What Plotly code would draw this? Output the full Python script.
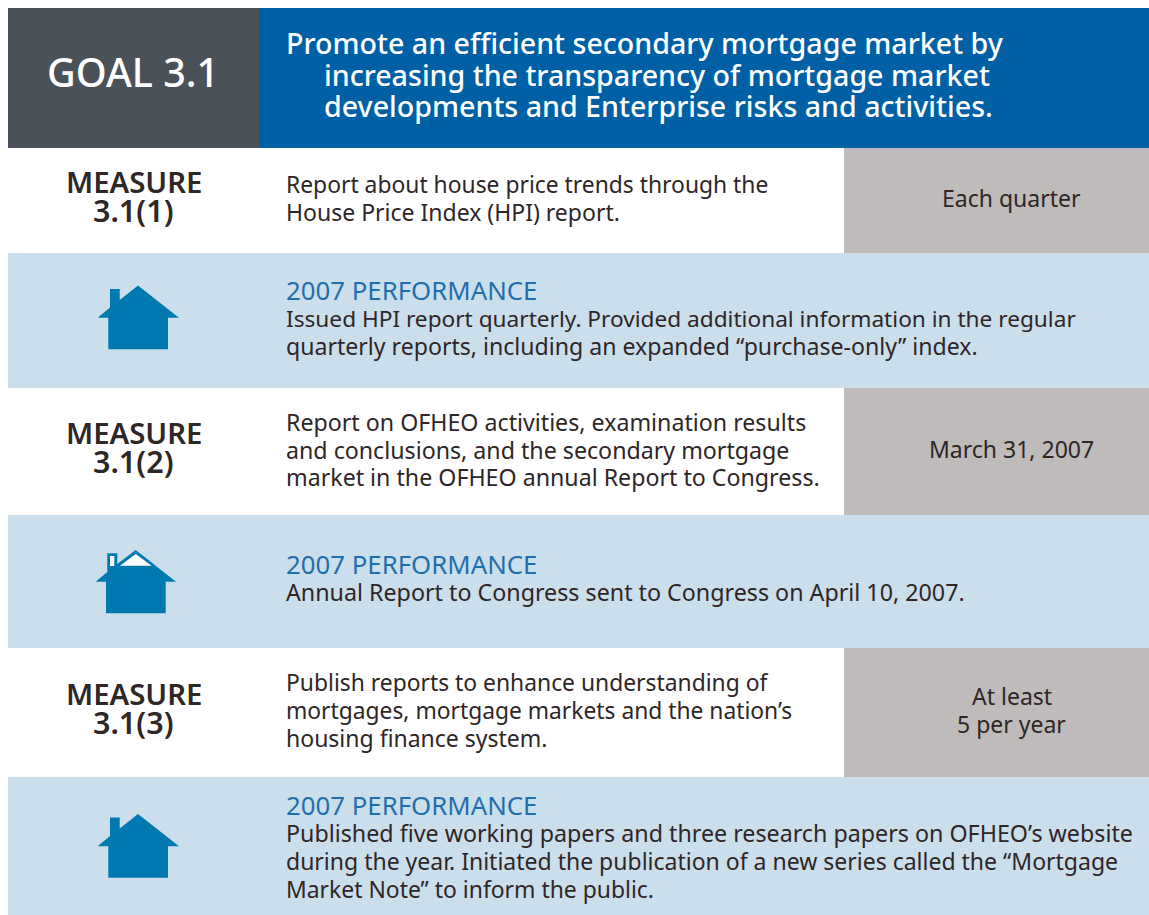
import plotly.graph_objects as go

W, H = 1149, 915

# Panels: left, right, top, bottom, colour name
panels = [
    (8, 259, 8, 148, "slate"), (259, 1149, 8, 148, "blue"),
    (844, 1149, 148, 253, "stone"), (8, 1149, 253, 388, "pale"),
    (844, 1149, 388, 515, "stone"), (8, 1149, 515, 648, "pale"),
    (844, 1149, 648, 777, "stone"), (8, 1149, 777, 915, "pale"),
]
colours = dict(slate="#4b5158", blue="#0060a5", stone="#bfbbba", pale="#cbdeec",
               icon="#0079b1", ink="#2e2627", head="#1f6fae", white="#ffffff")

goal_label = ["GOAL 3.1"]
goal_title = ["Promote an efficient secondary mortgage market by",
              "increasing the transparency of mortgage market",
              "developments and Enterprise risks and activities."]
goal_title_x = [286, 324, 324]
goal_title_y = [42, 74, 105]

measure_names = ["MEASURE", "3.1(1)", "MEASURE", "3.1(2)", "MEASURE", "3.1(3)"]
measure_sizes = [29.3, 30.5, 29.3, 30.5, 29.3, 30.5]
measure_y = [182, 210, 433, 461, 694, 722]

measure_text = ["Report about house price trends through the",
                "House Price Index (HPI) report.",
                "Report on OFHEO activities, examination results",
                "and conclusions, and the secondary mortgage",
                "market in the OFHEO annual Report to Congress.",
                "Publish reports to enhance understanding of",
                "mortgages, mortgage markets and the nation’s",
                "housing finance system."]
measure_text_sizes = [22.85, 23, 23.2, 23.2, 23.2, 22.85, 22.8, 23]
measure_text_y = [184, 212, 422, 450, 477, 682, 710, 738]

targets = ["Each quarter", "March 31, 2007", "At least", "5 per year"]
targets_y = [198, 449, 696, 724]

perf_heads_y = [290, 564, 805]
perf_head = "2007 PERFORMANCE"

perf_text = ["Issued HPI report quarterly. Provided additional information in the regular",
             "quarterly reports, including an expanded “purchase-only” index.",
             "Annual Report to Congress sent to Congress on April 10, 2007.",
             "Published five working papers and three research papers on OFHEO’s website",
             "during the year. Initiated the publication of a new series called the “Mortgage",
             "Market Note” to inform the public."]
perf_text_sizes = [22.65, 23.1, 23.25, 23.25, 23, 22.9]
perf_text_y = [318, 346, 592, 833, 861, 889]

# House outlines
house_a = [(138, 285.5), (179, 317.7), (168, 317.7), (168, 349.3), (108.3, 349.3), (108.3, 317.7),
           (97.7, 317.7), (110, 307.5), (110, 289), (119.7, 289), (119.7, 300)]
house_c = [(x, y + 528.5) for x, y in house_a]
house_b = [(135.7, 550), (176, 581.7), (165.7, 581.7), (165.7, 613.3), (106, 613.3), (106, 581.7),
           (95.7, 581.7), (107.3, 572), (107.3, 553.3), (117.3, 553.3), (117.3, 564)]
house_b_roof = [(135.7, 554), (151.7, 565.7), (120, 565.7)]
house_b_flue = [(110, 556), (114.3, 556), (114.3, 566), (110, 566)]


def path(points):
    return "M" + " L".join(f"{x},{y}" for x, y in points) + " Z"


shapes = [dict(type="rect", x0=a, x1=b, y0=c, y1=d, fillcolor=colours[k], line_width=0, layer="below")
          for a, b, c, d, k in panels]
for pts, col in [(house_a, "icon"), (house_b, "icon"), (house_c, "icon"),
                 (house_b_roof, "white"), (house_b_flue, "white")]:
    shapes.append(dict(type="path", path=path(pts), fillcolor=colours[col], line_width=0))

FONT = "Noto Sans"
ann = []


def add(text, x, y, size, col, anchor="left", weight=400):
    ann.append(dict(text=text, x=x, y=y, xref="x", yref="y", xanchor=anchor, yanchor="middle",
                    showarrow=False, borderpad=0, borderwidth=0,
                    font=dict(family=FONT, size=size, color=colours[col], weight=weight)))


add(goal_label[0], 133, 72, 39.5, "white", "center", 500)
for t, x, y in zip(goal_title, goal_title_x, goal_title_y):
    add(t, x, y, 28.6, "white", "left", 500)
for t, s, y in zip(measure_names, measure_sizes, measure_y):
    add(t, 133.5, y, s, "ink", "center", 600)
for t, s, y in zip(measure_text, measure_text_sizes, measure_text_y):
    add(t, 286, y, s, "ink")
for t, y in zip(targets, targets_y):
    add(t, 1011.5, y, 23, "ink", "center")
for y in perf_heads_y:
    add(perf_head, 286, y, 25.8, "head")
for t, s, y in zip(perf_text, perf_text_sizes, perf_text_y):
    add(t, 286, y, s, "ink")

fig = go.Figure()
fig.update_layout(
    width=W, height=H, margin=dict(l=0, r=0, t=0, b=0),
    paper_bgcolor="#ffffff", plot_bgcolor="#ffffff", showlegend=False,
    xaxis=dict(range=[0, W], visible=False, fixedrange=True),
    yaxis=dict(range=[H, 0], visible=False, fixedrange=True),
    shapes=shapes, annotations=ann,
)
fig.write_html("out.html", config=dict(displayModeBar=False),
               post_script="document.body.style.margin='0';document.documentElement.style.overflow='hidden';")
